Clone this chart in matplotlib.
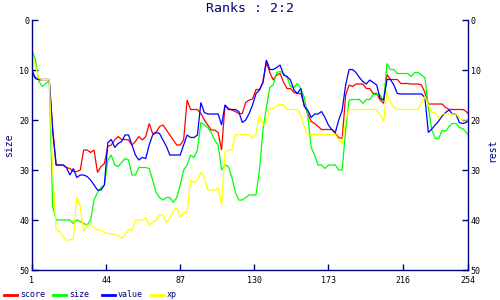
import numpy as np
import matplotlib
matplotlib.use("Agg")
import matplotlib.pyplot as plt
from matplotlib.lines import Line2D

title = "Ranks : 2:2"
series_names = ["score", "size", "value", "xp"]
series_colors = ["#ff0000", "#00ff00", "#0000ff", "#ffff00"]
x_ticks = [1, 44, 87, 130, 173, 216, 254]
y_ticks = [0, 10, 20, 30, 40, 50]

# sample positions (every second rank index, plus the last one)
x_index = list(range(1, 254, 2)) + [254]

score = [11, 11.5, 12, 11.9, 11.9, 11.9, 22, 29, 29, 29,
         29.5, 29.7, 30.3, 30.3, 30, 26, 26, 26.5, 26, 30.5,
         29.3, 28.7, 25.3, 25, 24, 23.3, 23.9, 23.9, 24, 25,
         24.3, 23.3, 24, 23.3, 20.7, 22.7, 22.5, 21.3, 21, 22,
         23, 24, 25, 25, 24, 16, 17.9, 17.9, 17.9, 18.7,
         20, 21, 22, 22, 22.5, 26, 17, 17.7, 18, 18.3,
         18.7, 18.7, 16.5, 16, 15.8, 13.9, 13.9, 12.5, 8.5, 10.5,
         12, 11, 10.7, 12.5, 13.7, 13.7, 14.5, 14.7, 14.7, 17,
         18.7, 20.3, 20.7, 21.3, 21.9, 21.9, 21.9, 21.9, 22.7, 23.5,
         23.7, 15, 13, 13.3, 12.8, 12.8, 12.8, 13.7, 13.7, 14.7,
         14.7, 16, 16.7, 10.9, 11.9, 11.9, 11.9, 12.7, 12.7, 12.7,
         12.8, 12.8, 12.8, 13, 14.5, 16.8, 16.8, 16.8, 16.8, 16.8,
         17.5, 17.9, 17.9, 17.9, 17.9, 17.9, 18.3,
         18.7]

size = [6, 8, 12.3, 13.3, 12.7, 12.1, 37.3, 40, 40, 40,
        40, 40, 40.7, 40, 40.3, 40.7, 41, 40, 36, 34.5,
        33.5, 33, 28, 27, 29, 29.3, 28.5, 27.7, 28, 31,
        31, 29.5, 29.5, 29.5, 29.7, 32, 34.5, 35.5, 36, 35.5,
        35.5, 36.5, 35.5, 33, 30, 29, 27, 27.5, 26, 20.5,
        21, 21.5, 22.5, 24, 25, 30, 29, 29.3, 31.5, 34.5,
        36, 36, 35.5, 35, 35, 35, 30, 22, 17.5, 13.5,
        13, 10.5, 10.3, 10.7, 11.5, 13.3, 13.5, 12.7, 13.7, 15.5,
        19, 25.5, 27, 29, 29, 29.7, 29, 29, 29, 30,
        30, 22, 16, 15.9, 15.9, 15.9, 16.7, 15.9, 15.9, 14.9,
        14.9, 15, 16.3, 8.7, 9.9, 9.9, 10.7, 10.7, 10.7, 10.7,
        11.3, 10.5, 10.5, 11, 11.5, 17.5, 22, 23.7, 23.7, 22,
        22.3, 21.3, 20.7, 20.7, 21.5, 21.7, 22.5,
        23]

value = [10, 11.7, 11.9, 11.9, 11.9, 11.9, 22, 29, 29, 29,
         29.5, 31, 29.7, 31.5, 31, 31, 31.3, 32, 33, 34,
         34, 33, 24.5, 23.9, 25.5, 24.7, 24.3, 23, 23, 25,
         27, 28, 27.5, 27.7, 25, 23, 22.5, 22.7, 24, 25.3,
         27, 27, 27, 27, 25, 23, 23.5, 23.5, 23, 16.5,
         18.5, 18.8, 18.8, 18.8, 18.8, 21, 17, 17.9, 17.9, 17.9,
         18.3, 20.5, 20, 18.7, 17, 14.7, 14, 12.5, 8, 9.9,
         9.9, 9.5, 9, 11, 11.3, 12, 14, 14.7, 13.7, 17.3,
         18, 19.5, 18.8, 18.8, 18.3, 19.5, 21, 21.9, 22.5, 20,
         18, 13, 9.9, 9.9, 10.5, 11.5, 12.3, 12.8, 12, 12.5,
         13, 15.7, 16, 11.9, 11.9, 13, 14.7, 14.8, 14.8, 14.8,
         14.8, 14.8, 14.8, 14.8, 15.5, 22.5, 21.8, 21, 20.2, 19.2,
         18.5, 18, 18.8, 18.8, 20.5, 20.7, 20.5,
         20]

xp = [6.5, 9.3, 11.7, 11.9, 11.9, 11.9, 30, 42, 42.3, 43.3,
      44, 44, 43.7, 35.3, 37.3, 42.3, 41, 41, 41.5, 42,
      42, 42.5, 42.7, 42.7, 43, 43, 43.7, 43, 42, 42,
      40, 40, 40, 39.5, 41, 40.5, 40, 39, 39, 40.5,
      39.5, 38.3, 37.5, 39.5, 38.5, 38.5, 32, 32.5, 32, 30.5,
      31.5, 34, 34, 34, 33.5, 37, 26.5, 26, 26, 23,
      22.9, 22.9, 22.9, 22.9, 23.7, 22.7, 19, 21, 20.5, 17.7,
      17.7, 17.2, 16.9, 16.9, 17.9, 17.9, 17.9, 17.9, 19, 21.5,
      22.9, 22.9, 22.9, 22.9, 22.9, 22.9, 22.9, 22.9, 22.9, 24,
      24.7, 20, 17.9, 17.9, 17.9, 17.9, 17.9, 17.9, 17.9, 17.9,
      17.9, 19, 20.3, 14.5, 16.5, 17.5, 17.9, 17.9, 17.9, 17.9,
      17.9, 17.9, 17.9, 16.5, 15.3, 17, 18.5, 18.5, 19.7, 18.8,
      18.8, 18.8, 18.8, 18.8, 19.5, 20, 20,
      20]

navy = "#000080"
mono = "DejaVu Sans Mono"

fig = plt.figure(figsize=(5, 3), dpi=100)
ax = fig.add_axes([0.064, 0.1, 0.872, 0.8333])

for vals, col in zip([score, size, value, xp], series_colors):
    ax.plot(x_index, vals, color=col, linewidth=0.9, solid_joinstyle="miter")

ax.set_xlim(1, 254)
ax.set_ylim(50, 0)
ax.set_xticks(x_ticks)
ax.set_yticks(y_ticks)
for side in ["left", "right", "bottom"]:
    ax.spines[side].set_color(navy)
    ax.spines[side].set_linewidth(1.0)
ax.spines["top"].set_visible(False)
ax.tick_params(axis="both", direction="in", length=4, width=1, color=navy,
               labelsize=6, labelcolor="black", pad=2)
ax.tick_params(axis="x", pad=4)
ax.tick_params(axis="y", left=True, right=True, labelleft=True, labelright=True)
for lab in ax.get_xticklabels() + ax.get_yticklabels():
    lab.set_family(mono)
ax.set_ylabel("size", family=mono, fontsize=7, color=navy, labelpad=4)

fig.text(0.985, 0.5, "rest", rotation=90, family=mono, fontsize=7, color=navy,
         ha="center", va="center")
fig.text(0.5, 0.972, title, family=mono, fontsize=9.5, color=navy,
         ha="center", va="center")

# legend row along the bottom
leg_x = [0.008, 0.106, 0.204, 0.302]
for name, col, lx in zip(series_names, series_colors, leg_x):
    fig.add_artist(Line2D([lx, lx + 0.026], [0.017, 0.017], color=col,
                          linewidth=2, transform=fig.transFigure))
    fig.text(lx + 0.032, 0.017, name, family=mono, fontsize=6, color=navy,
             ha="left", va="center")

fig.savefig("out.png", dpi=100)
